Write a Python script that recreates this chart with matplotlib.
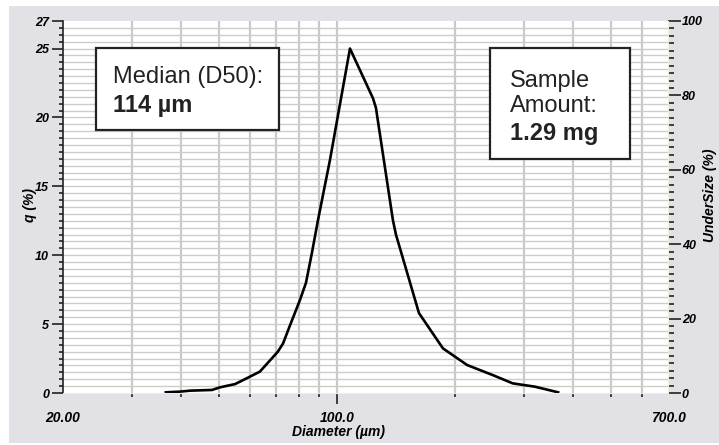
import numpy as np
import matplotlib
matplotlib.use("Agg")
import matplotlib.pyplot as plt
import matplotlib.patches as mpatches
from matplotlib.ticker import FixedLocator, MultipleLocator, NullFormatter

# particle size distribution
diameter = [36.6, 39.8, 42.2, 48.0, 50.3, 55.0, 58.9, 63.6, 70.7, 72.9, 75.9,
            80.5, 83.4, 86.4, 89.5, 96.0, 108.0, 123.6, 125.8, 139.0, 141.5,
            162.0, 186.5, 215.0, 250.0, 281.0, 320.0, 367.0]
q_percent = [0.05, 0.1, 0.17, 0.22, 0.41, 0.65, 1.07, 1.55, 3.0, 3.6, 4.9,
             6.75, 8.0, 10.2, 12.55, 16.9, 25.0, 21.4, 20.7, 12.55, 11.5,
             5.8, 3.24, 2.03, 1.3, 0.7, 0.46, 0.05]

x_ticks = [20, 100, 700]
x_ticklabels = ["20.00", "100.0", "700.0"]
x_grid = [30, 40, 50, 60, 70, 80, 90, 100, 200, 300, 400, 500, 600]
y_ticks = [0, 5, 10, 15, 20, 25, 27]
y2_ticks = [0, 20, 40, 60, 80, 100]

median_text = ("Median (D50):", "114 µm")
amount_text = ("Sample\nAmount:", "1.29 mg")

W, H = 719, 445
tick_font = dict(family="Liberation Sans", weight="bold", style="italic")

fig = plt.figure(figsize=(W / 100, H / 100), dpi=100)
fig.patch.set_facecolor("white")
fig.patches.append(mpatches.Rectangle((9 / W, 2 / H), 1, (437) / H,
                                      transform=fig.transFigure,
                                      facecolor="#e1e1e6", edgecolor="none",
                                      zorder=-10))

ax = fig.add_axes([63 / W, (H - 393) / H, 605 / W, 372 / H])
ax.set_facecolor("white")
ax.set_xscale("log")
ax.set_xlim(20, 700)
ax.set_ylim(0, 27)

# grid
for d in x_grid:
    ax.axvline(d, color="#c9c9c9", lw=1.6, zorder=0)
for v in np.arange(0.5, 27.0, 0.5):
    ax.axhline(v, color="#cccccc", lw=1.0, zorder=0)

ax.plot(diameter, q_percent, color="black", lw=1.9, zorder=3)

# x axis
ax.xaxis.set_major_locator(FixedLocator(x_ticks))
ax.set_xticklabels(x_ticklabels, fontsize=10, **tick_font)
ax.xaxis.set_minor_locator(FixedLocator([d for d in x_grid if d != 100]))
ax.xaxis.set_minor_formatter(NullFormatter())
ax.tick_params(axis="x", which="major", length=8, width=1.2, color="#222222", pad=5)
ax.tick_params(axis="x", which="minor", length=3, width=1.2, color="#222222")
xt = ax.xaxis.get_major_ticks()
xt[0].tick1line.set_visible(False)
xt[-1].tick1line.set_visible(False)

# left y axis
ax.set_yticks(y_ticks)
ax.set_yticklabels([str(v) for v in y_ticks], fontsize=9, **tick_font)
ax.yaxis.set_minor_locator(MultipleLocator(0.5))
ax.tick_params(axis="y", which="major", length=8, width=1.2, color="#222222", pad=2)
ax.tick_params(axis="y", which="minor", length=3, width=1.2, color="#222222")
ax.yaxis.get_major_ticks()[-1].tick1line.set_visible(False)

ax.spines["top"].set_visible(False)
ax.spines["left"].set_color("#222222")
ax.spines["left"].set_linewidth(1.2)
ax.spines["bottom"].set_color("#f2eed8")
ax.spines["right"].set_color("#f2eed8")

# right y axis
ax2 = ax.twinx()
ax2.set_ylim(0, 100)
ax2.set_yticks(y2_ticks)
ax2.set_yticklabels([str(v) for v in y2_ticks], fontsize=9, **tick_font)
ax2.yaxis.set_minor_locator(MultipleLocator(2))
ax2.tick_params(axis="y", which="major", length=9, width=1.2, color="#222222", pad=1)
ax2.tick_params(axis="y", which="minor", length=4, width=1.2, color="#222222")
for s in ["top", "left", "bottom"]:
    ax2.spines[s].set_visible(False)
ax2.spines["right"].set_color("#f2eed8")

# axis titles
fig.text(30 / W, 1 - 205 / H, "q (%)", rotation=90, ha="center", va="center",
         fontsize=10, family="Liberation Sans", style="italic", weight="bold")
fig.text(710 / W, 1 - 195 / H, "UnderSize (%)", rotation=90, ha="center",
         va="center", fontsize=10, family="Liberation Sans", style="italic",
         weight="bold")
fig.text(338 / W, 1 - 432 / H, "Diameter (µm)", ha="center", va="center",
         fontsize=10, family="Liberation Sans", style="italic", weight="bold")

# annotation boxes
box_kw = dict(transform=ax.transAxes, facecolor="white", edgecolor="#222222",
              lw=1.6, zorder=5)
ax.add_patch(mpatches.Rectangle((0.0545, 0.707), 0.3025, 0.22, **box_kw))
ax.add_patch(mpatches.Rectangle((0.706, 0.629), 0.231, 0.298, **box_kw))

txt_kw = dict(transform=ax.transAxes, fontsize=17, family="Liberation Sans",
              color="#222222", zorder=6, va="baseline", ha="left")
ax.text(0.0826, 0.833, median_text[0], **txt_kw)
ax.text(0.0826, 0.755, median_text[1], weight="bold", **txt_kw)
ax.text(0.739, 0.755, amount_text[0], linespacing=1.2, **txt_kw)
ax.text(0.739, 0.680, amount_text[1], weight="bold", **txt_kw)

fig.savefig("out.png", dpi=100, facecolor=fig.get_facecolor())
